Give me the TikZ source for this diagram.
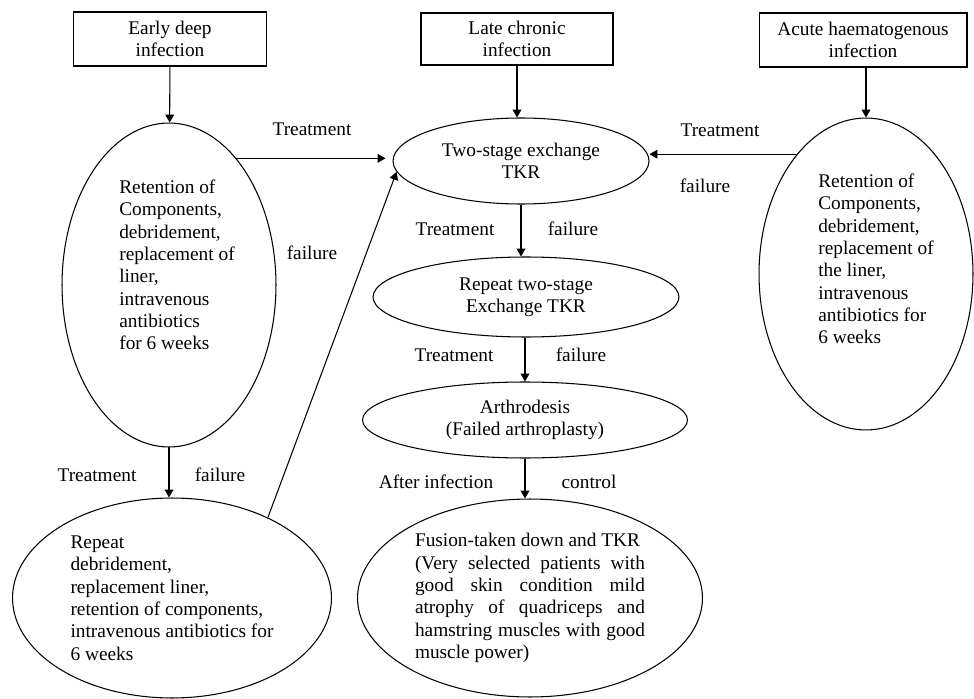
\documentclass[tikz,border=0pt]{standalone}
\usepackage{fontspec}
\setmainfont{Liberation Serif}
\usetikzlibrary{arrows.meta,shapes.geometric}

\begin{document}
\begin{tikzpicture}[
  x=0.02cm, y=-0.02cm,
  font=\fontsize{11}{12.7}\selectfont,
  infect/.style={draw, line width=0.6pt, align=center, inner sep=0pt},
  stage/.style ={draw, ellipse, line width=0.6pt, inner sep=0pt},
  inside/.style={align=left, inner sep=0pt},
  lbl/.style   ={inner sep=1pt},
  flow/.style  ={-{Triangle[length=4.5pt,width=5pt]}, line width=0.6pt},
]
\useasboundingbox (0,0) rectangle (974,699);

% kinds of infection
\node[infect, minimum width=3.86cm, minimum height=1.08cm] (early) at (170,39) {Early deep\\infection};
\node[infect, minimum width=3.84cm, minimum height=1.04cm] (late)  at (517,39) {Late chronic\\infection};
\node[infect, minimum width=4.16cm, minimum height=1.08cm] (acute) at (863,40) {Acute haematogenous\\infection};

% treatments
\node[stage, minimum width=4.28cm, minimum height=6.48cm,
  label={[inside, xshift=0.16cm, yshift=0.4cm]center:{Retention of\\Components,\\debridement,\\replacement of\\liner,\\intravenous\\antibiotics\\for 6 weeks}}] (ret1) at (169,285) {};
\node[stage, minimum width=5.12cm, minimum height=1.72cm, align=center] (two) at (521,161)
  {Two-stage exchange\\TKR};
\node[stage, minimum width=4.28cm, minimum height=6.24cm,
  label={[inside, xshift=0.2cm, yshift=0.3cm]center:{Retention of\\Components,\\debridement,\\replacement of\\the liner,\\intravenous\\antibiotics for\\6 weeks}}] (ret2) at (866,274) {};
\node[stage, minimum width=6.12cm, minimum height=1.6cm, align=center] (rep2) at (526,297)
  {Repeat two-stage\\Exchange TKR};
\node[stage, minimum width=6.5cm, minimum height=1.52cm, align=center] (arth) at (525,420)
  {Arthrodesis\\(Failed arthroplasty)};
\node[stage, minimum width=6.38cm, minimum height=4.0cm, align=left] (rep1) at (172,598)
  {Repeat\\debridement,\\replacement liner,\\retention of components,\\intravenous antibiotics for\\6 weeks};
\node[stage, minimum width=6.9cm, minimum height=3.96cm, text width=4.6cm, align=justify] (fusion) at (530,598)
  {Fusion-taken down and TKR\\(Very selected patients with\linebreak
   good skin condition mild\linebreak
   atrophy of quadriceps and\linebreak
   hamstring muscles with good\linebreak
   muscle power)};

% arrows
\draw[flow] (early) -- (ret1);
\draw[flow] (late.south) -- (late.south |- two.north);
\draw[flow] (ret2.north |- acute.south) -- (ret2.north);
\draw[flow, shorten >=0.14cm] (ret1.62.9) -- (ret1.62.9 -| two.west);
\draw[flow] (ret2.120.7) -- (ret2.120.7 -| two.east);
\draw[flow] (ret1.south) -- (ret1.south |- rep1.north);
\draw[flow] (rep1.40) -- (two.185);
\draw[flow] (two.south) -- (two.south |- rep2.north);
\draw[flow] (arth.north |- rep2.south) -- (arth.north);
\draw[flow] (arth.south) -- (arth.south |- fusion.north);

% arrow labels
\node[lbl] (t1) at (312,129) {Treatment};
\node[lbl] (f1) at (312,253) {failure};
\node[lbl] (t2) at (720,130) {Treatment};
\node[lbl] (f2) at (705,186) {failure};
\node[lbl] (t3) at (455,229) {Treatment};
\node[lbl] (f3) at (573,229) {failure};
\node[lbl] (t4) at (454,355) {Treatment};
\node[lbl] (f4) at (581,355) {failure};
\node[lbl] (a5) at (436,482) {After infection};
\node[lbl] (c5) at (589,482) {control};
\node[lbl] (t6) at (97,475) {Treatment};
\node[lbl] (f6) at (220,475) {failure};

\end{tikzpicture}
\end{document}
